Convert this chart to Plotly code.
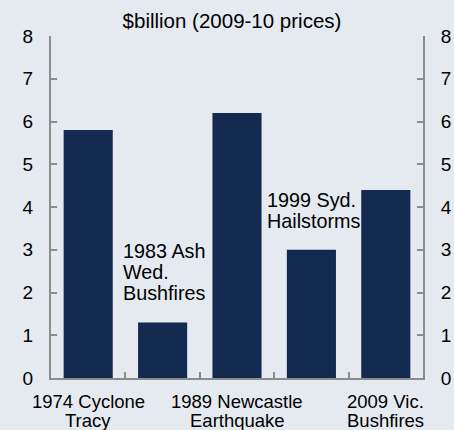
import plotly.graph_objects as go

categories = ["1974 Cyclone Tracy", "1983 Ash Wed. Bushfires", "1989 Newcastle Earthquake",
              "1999 Syd. Hailstorms", "2009 Vic. Bushfires"]
# lines of the category labels below the axis (empty = label is drawn inside the plot)
below_labels = [["1974 Cyclone", "Tracy"], [], ["1989 Newcastle", "Earthquake"], [],
                ["2009 Vic.", "Bushfires"]]
inner_labels = [[], ["1983 Ash", "Wed.", "Bushfires"], [], ["1999 Syd.", "Hailstorms"], []]
values = [5.8, 1.3, 6.2, 3.0, 4.4]
y_ticks = [0, 1, 2, 3, 4, 5, 6, 7, 8]
title_text = "$billion (2009-10 prices)"

BG = "#E5EAF0"
BAR = "#142A51"
AX = "#8C8C8C"
FONT = "Liberation Sans, Arial, sans-serif"
FS_TICK = 19
FS_CAT = 18.5
FS_IN = 19.8
FS_TITLE = 20.5

fig = go.Figure()
fig.add_trace(go.Bar(x=categories, y=values, marker=dict(color=BAR, line=dict(width=0)),
                     hoverinfo="skip"))
fig.add_trace(go.Scatter(x=categories, y=values, yaxis="y2", mode="markers",
                         marker=dict(opacity=0), hoverinfo="skip", showlegend=False))

annotations = []
for c, v, lines in zip(categories, values, inner_labels):
    n = len(lines)
    for i, line in enumerate(lines):
        annotations.append(dict(x=c, y=v, xref="x", yref="y", text=line, showarrow=False,
                                xanchor="left", yanchor="middle", xshift=-42 if n == 3 else -46,
                                yshift=29 + 21 * (n - 1 - i),
                                font=dict(family=FONT, size=FS_IN, color="#000")))
for c, lines in zip(categories, below_labels):
    for i, line in enumerate(lines):
        annotations.append(dict(x=c, y=0, xref="x", yref="paper", text=line, showarrow=False,
                                xanchor="center", yanchor="middle", yshift=-23.5 - 19 * i,
                                font=dict(family=FONT, size=FS_CAT, color="#000")))

axis_common = dict(range=[0, 8], tickvals=y_ticks, ticks="inside", ticklen=6, tickwidth=2,
                   tickcolor=AX, showline=True, linecolor=AX, linewidth=2, showgrid=False,
                   zeroline=False, tickfont=dict(family=FONT, size=FS_TICK, color="#000"),
                   ticklabelstandoff=12, fixedrange=True, automargin=False)

fig.update_layout(
    width=454, height=430,
    margin=dict(l=51, r=31, t=36, b=52, pad=0),
    paper_bgcolor=BG, plot_bgcolor=BG,
    bargap=0.34, showlegend=False,
    title=dict(text=title_text, x=232 / 454, xanchor="center", y=1 - 21 / 430,
               yanchor="middle", yref="container", xref="container", automargin=False,
               font=dict(family=FONT, size=FS_TITLE, color="#000")),
    xaxis=dict(type="category", categoryorder="array", categoryarray=categories,
               range=[-0.5, len(categories) - 0.5], autorange=False,
               tickvals=categories, ticktext=[""] * len(categories),
               tickson="boundaries", ticks="inside", ticklen=6, tickwidth=2, tickcolor=AX,
               showline=True, linecolor=AX, linewidth=2, showgrid=False,
               tickangle=0, automargin=False, fixedrange=True),
    yaxis=dict(side="left", **axis_common),
    yaxis2=dict(side="right", overlaying="y", **axis_common),
    annotations=annotations,
)

fig.write_html("out.html", config={"displayModeBar": False, "staticPlot": True},
               post_script="document.body.style.margin='0';document.body.style.overflow='hidden';")
